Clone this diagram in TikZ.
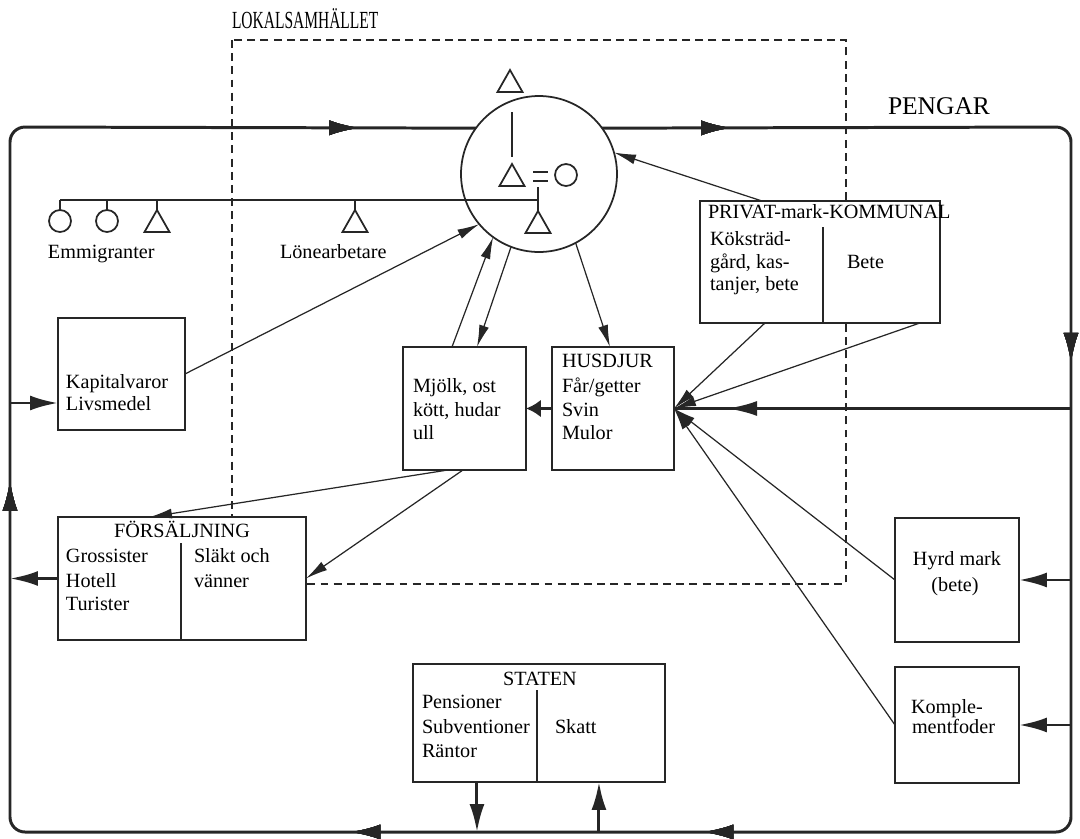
\documentclass[tikz,border=0pt]{standalone}
\usepackage{fontspec}
\usepackage{graphicx}
\setmainfont{Liberation Serif}
\usetikzlibrary{arrows.meta,decorations.markings}
\begin{document}
\begin{tikzpicture}[x=0.02cm,y=-0.02cm,
  box/.style={draw=black!85, fill=white, line width=1.1pt, inner sep=0pt, outer sep=0pt, rectangle},
  divider/.style={draw=black!85, line width=1.1pt},
  txt/.style={anchor=base west, inner sep=0pt, outer sep=0pt, font=\fontsize{11.5}{13}\selectfont},
  ctxt/.style={txt, anchor=base},
  flow/.style={draw=black!85, line width=0.7pt, -{Latex[length=0.44cm,width=0.2cm]}},
  shortflow/.style={draw=black!85, line width=1.7pt, -{Latex[length=0.3cm,width=0.36cm]}},
  money/.style={draw=black!85, line width=1.7pt},
  moneyflow/.style={money, -{Latex[length=0.56cm,width=0.3cm]}},
  tipat/.style={postaction={decorate}, decoration={markings,
      mark=at position #1 with {\arrow{Latex[length=0.6cm,width=0.3cm]}}}},
  kin/.style={draw=black!85, line width=0.8pt},
  male/.pic={\draw[kin, line width=1pt] (-12.5,22) -- (0,0) -- (12.5,22) -- cycle;},
  female/.pic={\draw[kin, line width=1pt] (0,0) circle[radius=0.22cm];},
]
\useasboundingbox (0,0) rectangle (1080,839);

% the local community, dashed frame and its title
\draw[black!85, line width=0.6pt, dash pattern=on 4.5pt off 3pt] (232,40) rectangle (846,584);
\node[txt, font=\fontsize{14}{16}\selectfont] (lok) at (232,28) {\scalebox{0.63}[1]{LOKALSAMHÄLLET}};
\node[txt, font=\fontsize{14.5}{16}\selectfont] (peng) at (888,114) {PENGAR};

% household
\node[draw=black!85, line width=1pt, circle, minimum size=3.12cm, inner sep=0pt, outer sep=0pt] (hh) at (539,174) {};
\pic at (510,70) {male};
\draw[kin] (512,112) -- (512,157);
\pic at (512,164) {male};
\draw[kin] (533,172) -- (548,172) (533,181) -- (548,181);
\pic at (566,175) {female};
\draw[kin] (538,187) -- (538,211);
\pic at (538,211) {male};

% relatives who left or work for wages
\draw[kin] (60,200) -- (538,200);
\draw[kin] (60,200) -- (60,210) (107,200) -- (107,210) (157,200) -- (157,210) (355,200) -- (355,210);
\pic at (60,221) {female};
\pic at (107,221) {female};
\pic at (157,210) {male};
\pic at (355,210) {male};
\node[txt] (emm) at (48,258) {Emmigranter};
\node[txt] (lon) at (280,258) {Lönearbetare};

% boxes
\node[box, anchor=north west, minimum width=2.54cm, minimum height=2.24cm] (kap) at (58,318) {};
\node[txt] at (66,388) {Kapitalvaror};
\node[txt] at (66,410) {Livsmedel};

\node[box, anchor=north west, minimum width=2.46cm, minimum height=2.46cm] (mjolk) at (403,347) {};
\node[txt] at (413,392) {Mjölk, ost};
\node[txt] at (413,416) {kött, hudar};
\node[txt] at (413,439) {ull};

\node[box, anchor=north west, minimum width=2.44cm, minimum height=2.46cm] (hus) at (552,347) {};
\node[txt] at (562,367) {HUSDJUR};
\node[txt] at (562,392) {Får/getter};
\node[txt] at (562,416) {Svin};
\node[txt] at (562,439) {Mulor};

\node[box, anchor=north west, minimum width=4.8cm, minimum height=2.44cm] (priv) at (700,201) {};
\draw[divider] (823,227) -- (823,323);
\node[txt] at (708,218) {PRIVAT-mark-KOMMUNAL};
\node[txt] at (710,245) {Köksträd-};
\node[txt] at (710,268) {gård, kas-};
\node[txt] at (710,290) {tanjer, bete};
\node[txt] at (847,268) {Bete};

\node[box, anchor=north west, minimum width=4.96cm, minimum height=2.46cm] (fors) at (58,517) {};
\draw[divider] (181,543) -- (181,640);
\node[ctxt] at (182,537) {FÖRSÄLJNING};
\node[txt] at (66,562) {Grossister};
\node[txt] at (66,587) {Hotell};
\node[txt] at (66,610) {Turister};
\node[txt] at (194,562) {Släkt och};
\node[txt] at (194,587) {vänner};

\node[box, anchor=north west, minimum width=5.04cm, minimum height=2.36cm] (stat) at (413,664) {};
\draw[divider] (537,690) -- (537,782);
\node[ctxt] at (540,685) {STATEN};
\node[txt] at (422,708) {Pensioner};
\node[txt] at (422,733) {Subventioner};
\node[txt] at (422,757) {Räntor};
\node[txt] at (555,733) {Skatt};

\node[box, anchor=north west, minimum width=2.48cm, minimum height=2.48cm] (hyrd) at (895,518) {};
\node[ctxt] at (957,565) {Hyrd mark};
\node[ctxt] at (955,591) {(bete)};

\node[box, anchor=north west, minimum width=2.48cm, minimum height=2.32cm] (komp) at (895,667) {};
\node[txt] at (911,713) {Komple-};
\node[txt] at (912,733) {mentfoder};

% the money loop
\coordinate (cTL) at (10,127);
\coordinate (cBL) at (10,832);
\coordinate (cBR) at (1071,832);
\coordinate (cTR) at (1071,127);
\draw[money, rounded corners=0.3cm, tipat=2.58cm, tipat=13.97cm, tipat=30.58cm,
      tipat=37.64cm, tipat=51.35cm, tipat=65.28cm]
  (hh.36) -- (cTR) -- (cBR) -- (cBL) -- (cTL) -- (hh.144);

\coordinate (lKap) at (10,403);
\draw[moneyflow] (lKap) -- (kap.west |- lKap);
\draw[moneyflow] (fors.west) -- (fors.west -| cBL);
\draw[moneyflow] (hyrd.east -| cTR) -- (hyrd.east);
\draw[moneyflow] (komp.east -| cTR) -- (komp.east);
\draw[money, tipat=6.88cm] (hus.east -| cTR) -- (hus.east);
\coordinate (sDown) at ([xshift=1.28cm]stat.south west);
\coordinate (sUp) at ([xshift=3.72cm]stat.south west);
\draw[moneyflow] (sDown) -- (sDown |- cBL);
\draw[moneyflow] (sUp |- cBL) -- (sUp);

% flows of goods
\draw[flow] ([xshift=1.24cm]priv.north west) -- (hh.16);
\draw[flow] (hh.-62) -- ([xshift=1.16cm]hus.north west);
\draw[flow] (hh.-111) -- ([xshift=1.48cm]mjolk.north west);
\draw[flow] ([xshift=0.98cm]mjolk.north west) -- (hh.-126);
\draw[flow] (kap.east) -- (hh.-140);
\draw[shortflow] (hus.west) -- (mjolk.east);
\draw[flow] ([xshift=0.9cm]mjolk.south west) -- ([xshift=1.84cm]fors.north west);
\draw[flow] ([xshift=1.2cm]mjolk.south west) -- (fors.east);
\draw[flow] ([xshift=1.3cm]priv.south west) -- (hus.east);
\draw[flow] ([xshift=4.4cm]priv.south west) -- (hus.east);
\draw[flow] (hyrd.west) -- (hus.east);
\draw[flow] (komp.west) -- (hus.east);
\end{tikzpicture}
\end{document}
